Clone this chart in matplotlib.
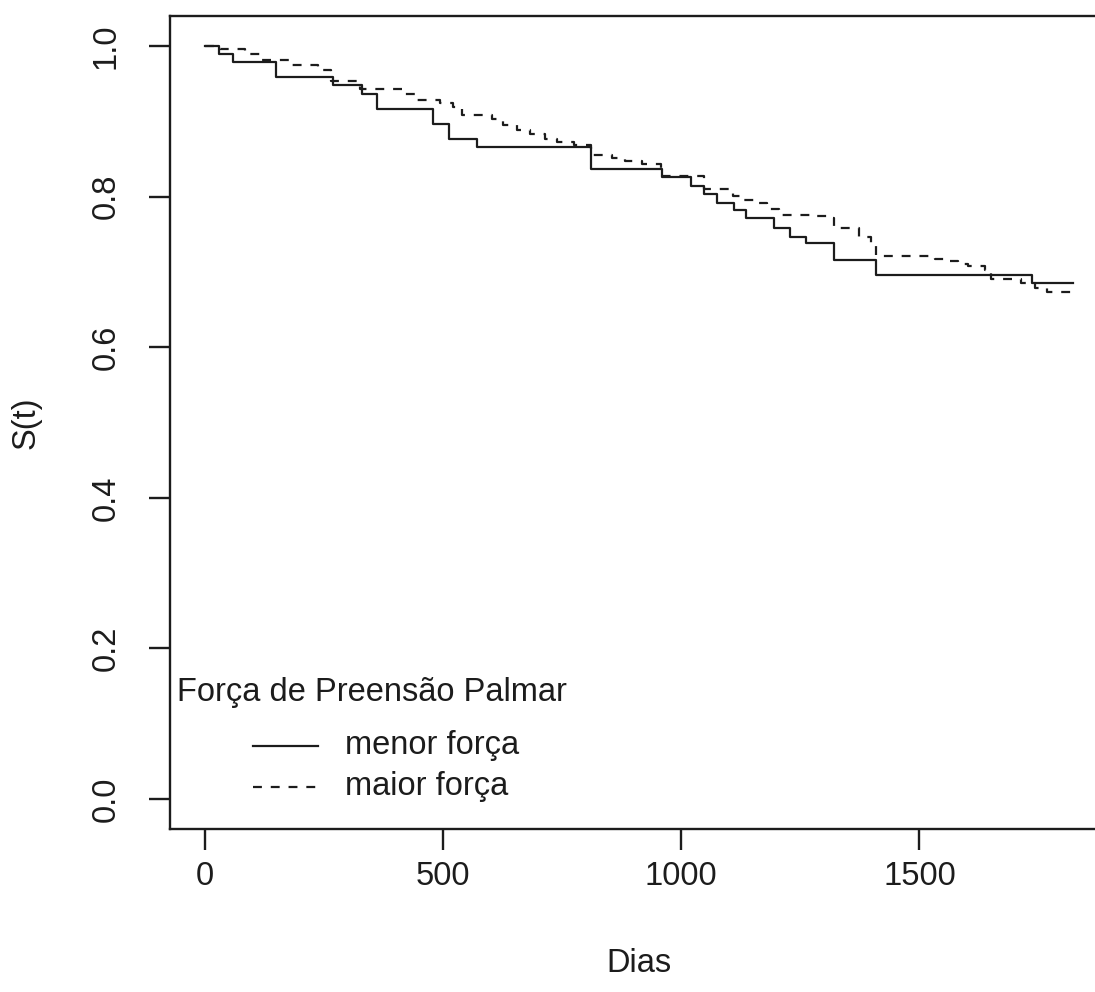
import matplotlib
matplotlib.use('Agg')
import matplotlib.pyplot as plt

# Kaplan-Meier estimates read per group (time in days, survival after the step)
tempo_menor = [0, 30, 60, 149, 270, 330, 362, 480, 512, 571, 811, 960, 1020, 1048,
               1076, 1111, 1137, 1195, 1229, 1262, 1321, 1409, 1736]
surv_menor = [1.000, 0.990, 0.979, 0.959, 0.948, 0.937, 0.917, 0.897, 0.877, 0.866,
              0.837, 0.826, 0.814, 0.803, 0.792, 0.782, 0.771, 0.759, 0.747, 0.738,
              0.716, 0.696, 0.685]

tempo_maior = [0, 32, 84, 116, 179, 238, 266, 326, 417, 445, 494, 522, 540, 603, 627,
               656, 683, 715, 740, 775, 810, 855, 883, 918, 957, 1048, 1108, 1132,
               1160, 1181, 1206, 1279, 1311, 1321, 1374, 1399, 1409, 1532, 1553, 1581,
               1602, 1637, 1651, 1714, 1742, 1767]
surv_maior = [1.000, 0.996, 0.989, 0.981, 0.975, 0.968, 0.953, 0.943, 0.936, 0.929,
              0.925, 0.919, 0.909, 0.903, 0.895, 0.889, 0.883, 0.876, 0.872, 0.868,
              0.856, 0.851, 0.847, 0.843, 0.827, 0.810, 0.801, 0.796, 0.792, 0.784,
              0.776, 0.774, 0.771, 0.759, 0.747, 0.736, 0.721, 0.717, 0.714, 0.711,
              0.708, 0.703, 0.690, 0.685, 0.679, 0.673]

tempo_fim = 1823
rotulos = ['menor força', 'maior força']
titulo_legenda = 'Força de Preensão Palmar'
xticks = [0, 500, 1000, 1500]
yticks = [0.0, 0.2, 0.4, 0.6, 0.8, 1.0]

plt.rcParams['font.family'] = ['Liberation Sans', 'DejaVu Sans']
cor = '#1c1c1c'
fs = 23.5

fig = plt.figure(figsize=(10.95, 9.92), dpi=100)
ax = fig.add_axes([170 / 1095, 163 / 992, 938 / 1095, 813 / 992])

lw = 1.6
ax.step(tempo_menor + [tempo_fim], surv_menor + [surv_menor[-1]], where='post',
        color=cor, lw=lw)
ax.step(tempo_maior + [tempo_fim], surv_maior + [surv_maior[-1]], where='post',
        color=cor, lw=lw, dashes=(4, 4))

ax.set_xlim(-72.9, 1895.9)
ax.set_ylim(-0.04, 1.04)
ax.set_xticks(xticks)
ax.set_xticklabels([str(v) for v in xticks])
ax.set_yticks(yticks)
ax.set_yticklabels(['%.1f' % v for v in yticks])

for s in ax.spines.values():
    s.set_linewidth(1.7)
    s.set_color(cor)
# the box runs past the right edge of the canvas
ax.spines['right'].set_visible(False)
ax.tick_params(axis='both', length=15, width=1.7, color=cor, labelcolor=cor,
               labelsize=fs)
ax.tick_params(axis='x', pad=8)
ax.tick_params(axis='y', pad=20, labelrotation=90)
for t in ax.get_yticklabels():
    t.set_va('center')

ax.set_xlabel('Dias', fontsize=fs, color=cor, labelpad=40)
ax.set_ylabel('S(t)', fontsize=fs, color=cor, labelpad=35)

# legend drawn in axes coordinates: title, then line samples with labels
ax.text(0.0075, 0.1685, titulo_legenda, transform=ax.transAxes, fontsize=fs,
        color=cor, va='center', ha='left')
ys = [0.1025, 0.0520]
estilos = [dict(), dict(dashes=(4, 4))]
for y, rot, est in zip(ys, rotulos, estilos):
    ax.plot([0.0885, 0.158], [y, y], transform=ax.transAxes, color=cor, lw=lw,
            clip_on=False, **est)
    ax.text(0.1866, y, rot, transform=ax.transAxes, fontsize=fs, color=cor,
            va='center', ha='left')

fig.savefig('out.png', dpi=100)
